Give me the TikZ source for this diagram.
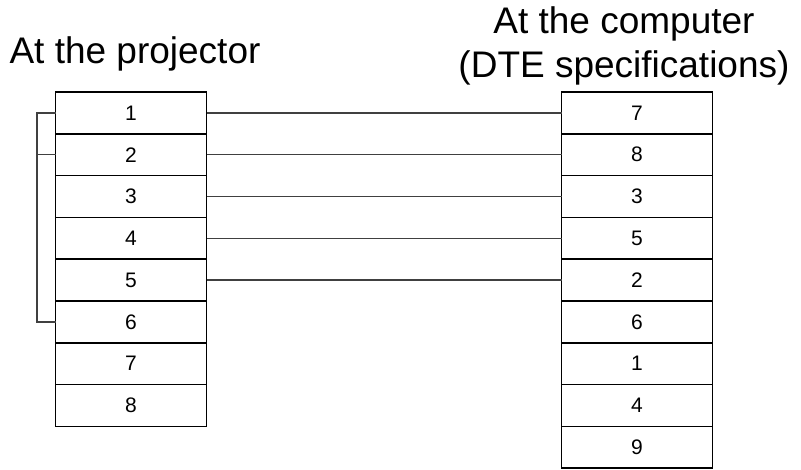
\documentclass[tikz,border=0pt]{standalone}
\usepackage{fontspec}
\setmainfont{Liberation Sans}
\usetikzlibrary{positioning}
\tikzset{pin/.style = {shape=rectangle,draw,line width=1.5pt,minimum width=151pt,minimum height=41.8pt,inner sep=0pt,outer sep=0pt,font=\fontsize{21}{24}\selectfont}}
\tikzset{wire/.style = {line width=1.5pt,draw=black!75}}
\tikzset{title/.style = {font=\fontsize{37}{44}\selectfont,align=center,inner sep=0pt}}

\begin{document}
\begin{tikzpicture}[x=1pt,y=-1pt]
            \useasboundingbox (0,0) rectangle (801,470);
            % Titles
            \node[title] (tl) at (135,54) {At the projector};
            \node[title] (tr) at (624,46) {At the computer\\(DTE specifications)};

            % Projector side
            \node[pin] (L1) at (131,112.9) {1};
            \foreach \n [count=\p from 1] in {2,...,8}
                \node[pin,below=0pt of L\p] (L\n) {\n};

            % Computer side
            \node[pin] (R1) at (637,112.9) {7};
            \foreach \t [count=\n from 2, count=\p from 1] in {8,3,5,2,6,1,4,9}
                \node[pin,below=0pt of R\p] (R\n) {\t};

            % Wires
            \foreach \a/\b in {1/1,2/2,3/3,4/4,5/5}
                \draw[wire] (L\a.east) -- (R\b.west);

            % Loop back 1, 2, 6
            \coordinate (k) at (37,0);
            \draw[wire] (L1.west) -- (L1.west -| k) -- (L6.west -| k) -- (L6.west);
            \draw[wire] (L2.west -| k) -- (L2.west);
        \end{tikzpicture}
\end{document}
